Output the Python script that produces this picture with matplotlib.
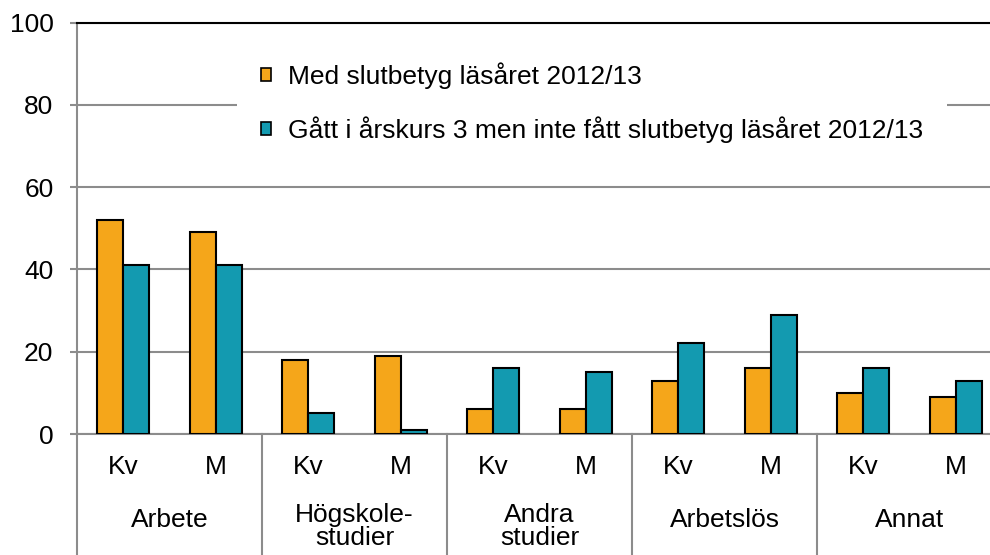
import matplotlib
matplotlib.use("Agg")
import matplotlib.pyplot as plt
import matplotlib.transforms as mtransforms
from matplotlib.patches import Patch

plt.rcParams['font.family'] = ['Liberation Sans', 'DejaVu Sans']

groups = ['Arbete', 'Högskole-\nstudier', 'Andra\nstudier', 'Arbetslös', 'Annat']
sexes = ['Kv', 'M']
med_slutbetyg = [52, 49, 18, 19, 6, 6, 13, 16, 10, 9]
utan_slutbetyg = [41, 41, 5, 1, 16, 15, 22, 29, 16, 13]
series_labels = ['Med slutbetyg läsåret 2012/13',
                 'Gått i årskurs 3 men inte fått slutbetyg läsåret 2012/13']
yticks = [0, 20, 40, 60, 80, 100]

c_orange = '#F5A61A'
c_teal = '#139AB0'
grid_c = '#8C8C8C'
FS = 19

W, H = 990, 555
fig = plt.figure(figsize=(W / 100, H / 100), dpi=100)
ax_l, ax_r, ax_b, ax_t = 77, 1002, 434, 22.5
ax = fig.add_axes([ax_l / W, 1 - ax_b / H, (ax_r - ax_l) / W, (ax_b - ax_t) / H])

n = len(med_slutbetyg)
centers = [i + 0.5 for i in range(n)]
bw = 0.28
ax.bar([c - bw / 2 for c in centers], med_slutbetyg, width=bw, color=c_orange,
       edgecolor='black', linewidth=1.5, zorder=3)
ax.bar([c + bw / 2 for c in centers], utan_slutbetyg, width=bw, color=c_teal,
       edgecolor='black', linewidth=1.5, zorder=3)

ax.set_xlim(0, n)
ax.set_ylim(0, 100)
ax.set_yticks(yticks)
ax.set_yticklabels([str(v) for v in yticks], fontsize=FS)
ax.yaxis.grid(True, color=grid_c, linewidth=1.5)
ax.set_axisbelow(True)
ax.tick_params(axis='y', length=5, width=1.5, color=grid_c, pad=12)

ax.spines['right'].set_visible(False)
ax.spines['top'].set_color('black')
ax.spines['top'].set_linewidth(1.5)
ax.spines['left'].set_color(grid_c)
ax.spines['left'].set_linewidth(1.5)
ax.spines['bottom'].set_color(grid_c)
ax.spines['bottom'].set_linewidth(1.5)

ax.set_xticks([])

trans = mtransforms.blended_transform_factory(ax.transData, ax.transAxes)
axh = ax_b - ax_t
bottom_frac = -(H - ax_b) / axh
for k in range(len(groups) + 1):
    ax.plot([2 * k, 2 * k], [0, bottom_frac], transform=trans, color=grid_c,
            linewidth=1.5, clip_on=False)

for i, c in enumerate(centers):
    ax.text(c, -(467 - ax_b) / axh, sexes[i % 2], transform=trans,
            ha='center', va='center', fontsize=FS)

for k, g in enumerate(groups):
    lines = g.split('\n')
    start = 520 if len(lines) == 1 else 515
    for j, line in enumerate(lines):
        ypix = start + 23 * j
        ax.text(2 * k + 1, -(ypix - ax_b) / axh, line, transform=trans,
                ha='center', va='center', fontsize=FS)

handles = [Patch(facecolor=c_orange, edgecolor='black', linewidth=1.2),
           Patch(facecolor=c_teal, edgecolor='black', linewidth=1.2)]
leg = fig.legend(handles, series_labels, loc='upper left',
                 bbox_to_anchor=(237 / W, 1 - 39 / H), fontsize=FS,
                 frameon=True, fancybox=False, framealpha=1,
                 handlelength=0.38, handleheight=0.38, handletextpad=0.64,
                 labelspacing=1.0, borderpad=0.9, borderaxespad=0)
leg.get_frame().set_facecolor('white')
leg.get_frame().set_edgecolor('none')
leg.set_zorder(10)

fig.savefig('out.png', dpi=100)
